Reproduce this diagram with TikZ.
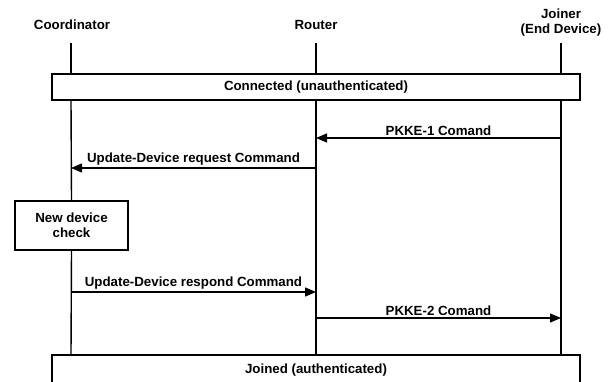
\documentclass[tikz,border=0pt]{standalone}
\usepackage{fontspec}
\setmainfont{Liberation Sans}
\usetikzlibrary{arrows.meta}

\begin{document}
\begin{tikzpicture}[x=1pt,y=-1pt]
  \tikzset{every node/.style={font=\bfseries\fontsize{13.3}{15}\selectfont},
    statebar/.style={draw,line width=1.4pt,fill=white,minimum width=528pt,inner sep=0pt},
    lifeline/.style={line width=1.4pt},
    msg/.style={line width=1.4pt,-{Triangle[length=11pt,width=9pt]}},
    msglabel/.style={above,inner sep=2pt}}
  \useasboundingbox (0,0) rectangle (612,382);
  \clip (0,0) rectangle (612,382);
  % device names
  \node (coordinator) at (72,25) {Coordinator};
  \node (router) at (316,25) {Router};
  \node[align=center] (joiner) at (561,23) {Joiner\\(End Device)};
  \coordinate (cl) at (71,43);
  \coordinate (rl) at (316,43);
  \coordinate (jl) at (561,43);
  % states and the local check
  \node[statebar,minimum height=26pt] (connected) at (316,87) {Connected (unauthenticated)};
  \node[statebar,minimum height=30pt] (joined) at (316,370) {Joined (authenticated)};
  \node[draw,line width=1.4pt,fill=white,minimum width=113pt,minimum height=49pt,
    align=center,inner sep=0pt] (check) at (71.5,225.5) {New device\\check};
  % lifelines
  \draw[lifeline] (cl) -- (cl |- connected.north);
  \draw[lifeline] (cl |- connected.south) -- (check.north);
  \draw[lifeline] (check.south) -- (cl |- joined.north);
  \draw[lifeline] (rl) -- (rl |- connected.north);
  \draw[lifeline] (rl |- connected.south) -- (rl |- joined.north);
  \draw[lifeline] (jl) -- (jl |- connected.north);
  \draw[lifeline] (jl |- connected.south) -- (jl |- joined.north);
  % messages
  \coordinate (m1) at (0,138);
  \coordinate (m2) at (0,168);
  \coordinate (m3) at (0,292);
  \coordinate (m4) at (0,318);
  \draw[msg] (jl |- m1) -- node[msglabel] {PKKE-1 Comand} (rl |- m1);
  \draw[msg] (rl |- m2) -- node[msglabel] {Update-Device request Command} (cl |- m2);
  \draw[msg] (cl |- m3) -- node[msglabel] {Update-Device respond Command} (rl |- m3);
  \draw[msg] (rl |- m4) -- node[msglabel] {PKKE-2 Comand} (jl |- m4);
\end{tikzpicture}
\end{document}
